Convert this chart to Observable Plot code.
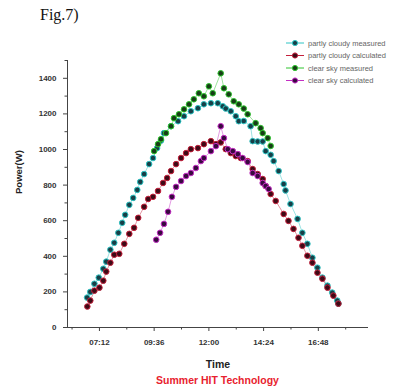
<!DOCTYPE html>
<html>
<head>
<meta charset="utf-8">
<script src="https://cdn.jsdelivr.net/npm/d3@7"></script>
<script src="https://cdn.jsdelivr.net/npm/@observablehq/plot@0.6"></script>
<style>
  html, body { margin: 0; padding: 0; background: #fff; }
  #wrap { position: relative; width: 415px; height: 392px; overflow: hidden; }
  #title { position: absolute; left: 40px; top: 6px; font-family: "Liberation Serif", "Times New Roman", serif; font-size: 16px; color: #111; }
  #legend { position: absolute; left: 284px; top: 37px; }
  #caption { position: absolute; left: 0; width: 435px; top: 374px; text-align: center; font-family: "Liberation Sans", Arial, sans-serif; font-weight: bold; font-size: 10.5px; color: #e8222e; }
</style>
</head>
<body>
<div id="wrap">
  <div id="title">Fig.7)</div>
  <div id="chart"></div>
  <div id="legend"></div>
  <div id="caption">Summer HIT Technology</div>
</div>
<script>
// ---- data (time in decimal hours, power in W) ----
const seriesNames = ["partly cloudy measured", "partly cloudy calculated", "clear sky measured", "clear sky calculated"];
const seriesStroke = ["#2ec4c4", "#c4203c", "#2fc42f", "#c42fc4"];
const seriesFill = ["#173f47", "#3e0a16", "#173d17", "#38093f"];

const pcMeasuredTime = [6.66, 6.80, 6.98, 7.17, 7.37, 7.50, 7.68, 7.85, 8.03, 8.20, 8.33, 8.51, 8.68, 8.86, 8.99, 9.16, 9.38, 9.55, 9.73, 9.90, 10.03, 10.34, 10.65, 10.91, 11.21, 11.52, 11.78, 12.09, 12.39, 12.61, 12.74, 12.96, 13.18, 13.31, 13.53, 13.83, 13.92, 14.14, 14.36, 14.49, 14.71, 14.84, 15.06, 15.28, 15.36, 15.58, 15.89, 16.10, 16.32, 16.54, 16.76, 16.98, 17.20, 17.41, 17.63, 17.68];
const pcMeasuredPower = [168, 200, 246, 280, 330, 370, 437, 476, 532, 588, 633, 689, 728, 773, 818, 862, 918, 952, 1008, 1050, 1092, 1131, 1159, 1187, 1215, 1232, 1254, 1260, 1260, 1243, 1230, 1215, 1187, 1159, 1160, 1131, 1047, 1045, 1045, 991, 970, 935, 879, 806, 770, 694, 610, 532, 470, 392, 336, 280, 235, 196, 151, 134];

const pcCalcTime = [6.67, 6.80, 6.98, 7.20, 7.37, 7.50, 7.68, 7.85, 8.07, 8.29, 8.51, 8.72, 8.90, 9.16, 9.34, 9.55, 9.77, 9.99, 10.17, 10.34, 10.56, 10.78, 11.00, 11.21, 11.52, 11.78, 12.09, 12.31, 12.52, 12.74, 12.96, 13.18, 13.40, 13.70, 13.92, 14.14, 14.36, 14.49, 14.71, 14.93, 15.28, 15.49, 15.71, 15.93, 16.10, 16.32, 16.54, 16.76, 16.98, 17.20, 17.46, 17.68];
const pcCalcPower = [118, 151, 207, 224, 263, 314, 364, 409, 414, 470, 526, 560, 616, 678, 722, 734, 767, 812, 840, 879, 918, 952, 980, 1002, 1008, 1030, 1047, 1030, 1040, 1002, 980, 963, 952, 935, 890, 862, 834, 795, 750, 711, 638, 599, 554, 504, 459, 403, 364, 308, 274, 224, 179, 134];

const csMeasuredTime = [9.60, 9.77, 9.90, 10.12, 10.34, 10.47, 10.69, 10.91, 11.13, 11.34, 11.56, 11.78, 12.00, 12.17, 12.52, 12.66, 12.87, 13.09, 13.31, 13.53, 13.70, 14.05, 14.27, 14.36, 14.58, 14.71];
const csMeasuredPower = [991, 1030, 1058, 1092, 1131, 1176, 1198, 1226, 1254, 1282, 1316, 1299, 1355, 1316, 1428, 1344, 1310, 1271, 1254, 1230, 1198, 1148, 1120, 1092, 1064, 1020];

const csCalcTime = [9.69, 9.86, 10.03, 10.21, 10.38, 10.56, 10.78, 11.00, 11.21, 11.43, 11.65, 11.78, 12.09, 12.31, 12.52, 12.66, 12.83, 13.05, 13.27, 13.48, 13.70, 13.92, 14.14, 14.36, 14.49, 14.62];
const csCalcPower = [493, 532, 582, 650, 734, 790, 823, 851, 868, 896, 935, 952, 991, 1019, 1131, 1064, 1002, 991, 974, 952, 930, 868, 851, 812, 795, 778];

const xTicks = [7.2, 9.6, 12, 14.4, 16.8];
const xMinorTicks = [6.0, 8.4, 10.8, 13.2, 15.6, 18.0];
const yTicks = [0, 200, 400, 600, 800, 1000, 1200, 1400];
const yMinorTicks = [100, 300, 500, 700, 900, 1100, 1300, 1500];

// ---- build table ----
const times = [pcMeasuredTime, pcCalcTime, csMeasuredTime, csCalcTime];
const powers = [pcMeasuredPower, pcCalcPower, csMeasuredPower, csCalcPower];
const data = [];
seriesNames.forEach((name, i) => {
  times[i].forEach((t, j) => data.push({series: name, time: t, power: powers[i][j]}));
});

const fmt = h => {
  const m = Math.round(h * 60);
  return String(Math.floor(m / 60)).padStart(2, "0") + ":" + String(m % 60).padStart(2, "0");
};

const font = '"Liberation Sans", Arial, sans-serif';

const chart = Plot.plot({
  width: 415,
  height: 392,
  marginTop: 60,
  marginLeft: 67,
  marginRight: 47,
  marginBottom: 65,
  style: {fontFamily: font, fontSize: "8px", fontWeight: "bold", color: "#333", background: "transparent"},
  x: {domain: [5.8, 19]},
  y: {domain: [0, 1500]},
  color: {domain: seriesNames, range: seriesStroke},
  marks: [
    Plot.ruleX([5.8], {stroke: "#444", strokeWidth: 1}),
    Plot.ruleY([0], {stroke: "#444", strokeWidth: 1}),
    Plot.axisX({ticks: xTicks, tickFormat: fmt, tickSize: 4, tickPadding: 8, label: null, stroke: "#444"}),
    Plot.axisX({ticks: xMinorTicks, tickFormat: () => "", tickSize: 2.5, label: null, stroke: "#444"}),
    Plot.axisY({ticks: yTicks, tickFormat: d => String(d), tickSize: 4, tickPadding: 7, label: null, stroke: "#444"}),
    Plot.axisY({ticks: yMinorTicks, tickFormat: () => "", tickSize: 2.5, label: null, stroke: "#444"}),
    Plot.line(data, {x: "time", y: "power", z: "series", stroke: "series", strokeWidth: 0.8, strokeOpacity: 0.6}),
    ...seriesNames.map((name, i) =>
      Plot.dot(data.filter(d => d.series === name), {x: "time", y: "power", r: 2.8, fill: seriesFill[i], stroke: seriesStroke[i], strokeWidth: 1})
    ),
    Plot.text(["Time"], {frameAnchor: "bottom", dy: 40, fontSize: 10.5, fontWeight: "bold", fill: "#222"}),
    Plot.text(["Power(W)"], {frameAnchor: "left", dx: -49, rotate: -90, fontSize: 9.5, fontWeight: "bold", fill: "#222"})
  ]
});
document.getElementById("chart").appendChild(chart);

// ---- legend ----
const leg = d3.select("#legend").append("svg").attr("width", 131).attr("height", 52)
  .style("font-family", font).style("font-size", "7.5px");
seriesNames.forEach((name, i) => {
  const g = leg.append("g").attr("transform", `translate(0, ${6 + i * 12.5})`);
  g.append("line").attr("x1", 2).attr("x2", 20).attr("y1", 0).attr("y2", 0).attr("stroke", seriesStroke[i]).attr("stroke-width", 1);
  g.append("circle").attr("cx", 11).attr("cy", 0).attr("r", 2.6).attr("fill", seriesFill[i]).attr("stroke", seriesStroke[i]);
  g.append("text").attr("x", 24).attr("y", 2.7).attr("fill", "#666").text(name);
});
</script>
</body>
</html>
